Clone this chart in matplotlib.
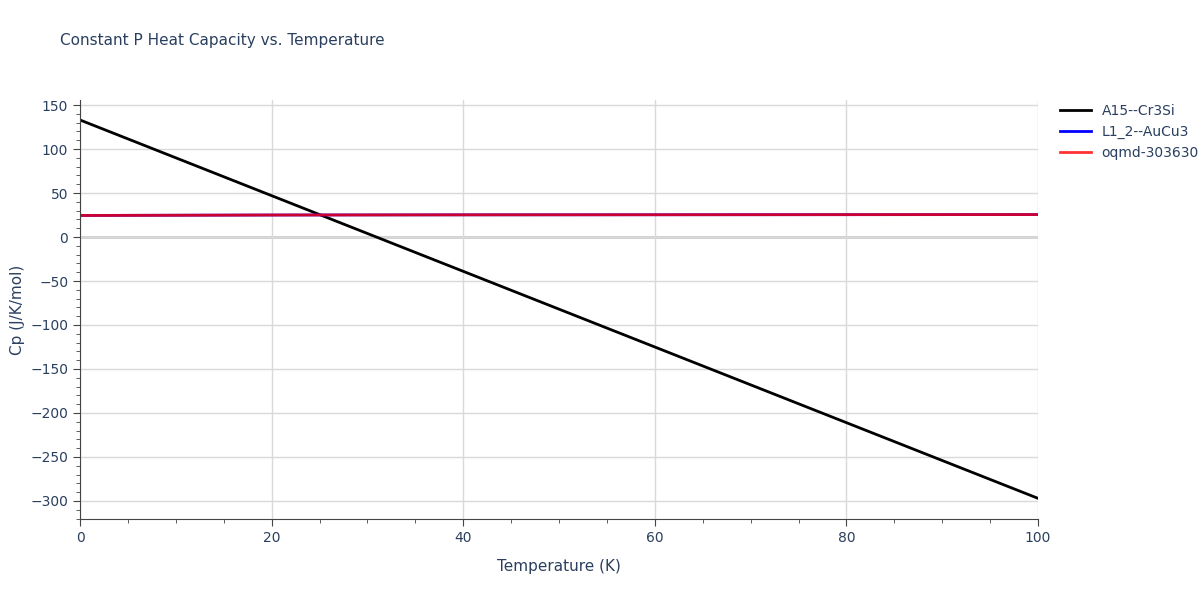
import matplotlib
matplotlib.use("Agg")
import matplotlib.pyplot as plt
from matplotlib.ticker import MultipleLocator

temps = [0, 20, 40, 60, 80, 100]
cp_a15 = [133, 47, -39, -125, -211, -297]
cp_l12 = [24.5, 25.0, 25.2, 25.3, 25.4, 25.5]
cp_oqmd = [24.5, 25.0, 25.2, 25.3, 25.4, 25.5]

fig = plt.figure(figsize=(12, 6), dpi=100)
ax = fig.add_axes([0.0667, 0.135, 0.7983, 0.6983])
tc = "#2a3f5f"
ax.plot(temps, cp_a15, color="black", lw=2, label="A15--Cr3Si")
ax.plot(temps, cp_l12, color="blue", lw=2, label="L1_2--AuCu3")
ax.plot(temps, cp_oqmd, color="red", lw=2, alpha=0.8, label="oqmd-303630")
ax.axhline(0, color="#cccccc", lw=2, zorder=0)
ax.set_xlim(0, 100)
ax.set_ylim(-320.5, 155.7)
ax.xaxis.set_major_locator(MultipleLocator(20))
ax.xaxis.set_minor_locator(MultipleLocator(5))
ax.yaxis.set_major_locator(MultipleLocator(50))
ax.yaxis.set_minor_locator(MultipleLocator(10))
ax.grid(True, which="major", color="#d9d9d9", lw=1)
ax.set_axisbelow(True)
for s in ["top", "right"]:
    ax.spines[s].set_visible(False)
for s in ["left", "bottom"]:
    ax.spines[s].set_color("#444444")
ax.tick_params(which="both", colors="#444444", labelcolor=tc, labelsize=10)
ax.tick_params(which="major", length=5)
ax.tick_params(which="minor", length=3)
ax.set_xlabel("Temperature (K)", color=tc, fontsize=11, labelpad=10)
ax.set_ylabel("Cp (J/K/mol)", color=tc, fontsize=11)
fig.text(0.05, 0.925, "Constant P Heat Capacity vs. Temperature", color=tc, fontsize=11)
leg = ax.legend(loc="upper left", bbox_to_anchor=(1.01, 1.02), frameon=False, fontsize=10,
                handlelength=2.2, labelcolor=tc)
fig.savefig("out.png")
